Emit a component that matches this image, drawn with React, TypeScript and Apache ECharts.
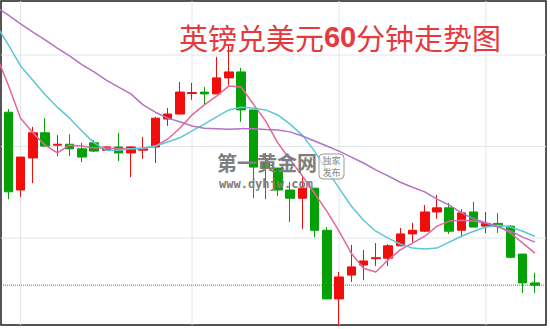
import React, { useEffect, useRef } from "react";
import * as echarts from "echarts";

// Title pieces
const TITLE_HEAD = "英镑兑美元";
const TITLE_NUM = "60";
const TITLE_TAIL = "分钟走势图";
const WM_NAME = "第一黄金网";
const WM_URL = "www.dyhjw.com";
const WM_BADGE = "独家\n发布";

// index of the first bar (it is cut by the left edge of the frame)
const FIRST_BAR = -1;

// GBP/USD 60-minute bars: [open, close, low, high]
const ohlc: number[][] = [
  [1.30341, 1.30273, 1.30262, 1.3035],
  [1.30275, 1.30101, 1.30085, 1.30282],
  [1.30105, 1.30177, 1.3009, 1.30177],
  [1.30175, 1.3023, 1.3012, 1.30243],
  [1.3023, 1.30201, 1.30199, 1.30262],
  [1.30203, 1.30205, 1.30179, 1.30225],
  [1.30205, 1.30195, 1.30179, 1.30227],
  [1.30195, 1.30177, 1.30166, 1.30208],
  [1.30208, 1.3019, 1.30188, 1.30214],
  [1.30192, 1.30199, 1.30192, 1.30201],
  [1.30199, 1.30186, 1.30168, 1.3023],
  [1.30186, 1.30199, 1.30133, 1.30201],
  [1.30192, 1.30195, 1.30173, 1.30221],
  [1.30199, 1.30262, 1.30164, 1.30265],
  [1.3026, 1.30271, 1.30245, 1.30284],
  [1.30271, 1.30319, 1.30271, 1.30341],
  [1.30316, 1.30318, 1.30302, 1.30339],
  [1.30319, 1.30315, 1.30291, 1.3033],
  [1.30315, 1.3035, 1.30315, 1.30396],
  [1.3035, 1.30363, 1.30334, 1.30422],
  [1.30363, 1.3028, 1.30254, 1.30372],
  [1.3028, 1.30155, 1.30087, 1.3028],
  [1.30164, 1.30153, 1.30085, 1.30186],
  [1.30153, 1.30105, 1.30092, 1.30153],
  [1.30105, 1.30087, 1.30035, 1.30122],
  [1.30087, 1.30109, 1.3002, 1.30136],
  [1.30109, 1.30017, 1.30002, 1.30109],
  [1.30017, 1.29867, 1.29867, 1.30024],
  [1.29867, 1.29915, 1.29808, 1.29926],
  [1.29919, 1.29937, 1.29904, 1.29985],
  [1.29941, 1.2995, 1.29908, 1.29974],
  [1.29955, 1.29957, 1.29939, 1.29989],
  [1.29956, 1.29983, 1.29939, 1.29987],
  [1.29983, 1.30009, 1.29983, 1.30022],
  [1.30009, 1.30017, 1.29991, 1.30033],
  [1.30015, 1.30057, 1.30013, 1.30072],
  [1.30057, 1.30066, 1.30042, 1.30094],
  [1.30066, 1.30015, 1.30009, 1.30077],
  [1.30017, 1.30055, 1.30002, 1.30063],
  [1.30057, 1.30024, 1.30024, 1.30079],
  [1.30026, 1.30032, 1.30011, 1.30057],
  [1.30032, 1.30026, 1.30011, 1.30055],
  [1.30026, 1.29958, 1.29956, 1.30028],
  [1.29965, 1.29902, 1.2988, 1.29965],
  [1.29902, 1.29897, 1.2988, 1.29924],
];

// moving averages, one value per bar
const maFast = [
  1.304, 1.30334, 1.30262, 1.3023, 1.30203, 1.30186, 1.30203, 1.30201, 1.30197, 1.30197,
  1.30195, 1.30195, 1.30195, 1.30201, 1.30216, 1.3024, 1.30269, 1.30291, 1.3031, 1.30332,
  1.3033, 1.30293, 1.30256, 1.30208, 1.30171, 1.30136, 1.30098, 1.30059, 1.30015, 1.29967,
  1.29934, 1.29926, 1.29952, 1.29974, 1.29989, 1.30004, 1.30026, 1.30037, 1.30039, 1.30037,
  1.30033, 1.30026, 1.30011, 1.29989, 1.29967,
];
const maMid = [
  1.30466, 1.30422, 1.30376, 1.30345, 1.30313, 1.30286, 1.30262, 1.30234, 1.30208, 1.30192,
  1.30192, 1.30195, 1.30197, 1.30201, 1.3021, 1.30219, 1.30234, 1.30249, 1.30265, 1.3028,
  1.30286, 1.30284, 1.3028, 1.30269, 1.30249, 1.30225, 1.3019, 1.30149, 1.30109, 1.3007,
  1.30039, 1.30015, 1.3, 1.29987, 1.29978, 1.29976, 1.29978, 1.29991, 1.30004, 1.30015,
  1.30024, 1.30028, 1.30024, 1.30015, 1.30004,
];
const maSlow = [
  1.30505, 1.30487, 1.30468, 1.3045, 1.30433, 1.30415, 1.30398, 1.30379, 1.30363, 1.30345,
  1.3033, 1.30315, 1.30291, 1.30275, 1.30262, 1.30254, 1.30245, 1.3024, 1.30239, 1.30238,
  1.30239, 1.30239, 1.30237, 1.30236, 1.30232, 1.30223, 1.30212, 1.30201, 1.3019, 1.30177,
  1.30164, 1.30149, 1.30136, 1.30122, 1.30111, 1.30101, 1.30085, 1.30072, 1.30055, 1.30042,
  1.30033, 1.30024, 1.30015, 1.30002, 1.29991,
];

// axis window, horizontal grid prices, vertical grid bars, last-price level
const X_MIN = -0.6;
const X_MAX = 43.9;
const Y_MIN = 1.2981;
const Y_MAX = 1.30518;
const gridPrices = [1.3, 1.302, 1.304];
const gridBars = [1, 15, 27, 39];
const lastPrice = 1.29897;

const UP = "#f20d0d";
const DOWN = "#05a005";
const GRID = "#e3e5ed";

export default function App() {
  const ref = useRef<HTMLDivElement>(null);

  useEffect(() => {
    if (!ref.current) return;
    const chart = echarts.init(ref.current, undefined, { renderer: "svg" });
    const withX = (arr: number[]) => arr.map((v, k) => [k + FIRST_BAR, v]);
    const refLine = (data: number[][], color: string, type: string, z: number) => ({
      type: "line",
      data,
      z,
      silent: true,
      symbol: "none",
      lineStyle: { color, width: 1, type },
    });

    chart.setOption({
      animation: false,
      grid: {
        left: 1,
        right: 4,
        top: 1,
        bottom: 4,
        show: true,
        borderColor: "#1e1e1e",
        borderWidth: 1.5,
        backgroundColor: "#ffffff",
      },
      xAxis: { type: "value", min: X_MIN, max: X_MAX, show: false },
      yAxis: { type: "value", min: Y_MIN, max: Y_MAX, show: false, scale: true },
      series: [
        ...gridPrices.map((p) =>
          refLine([[X_MIN, p], [X_MAX, p]], GRID, "solid", 1)
        ),
        ...gridBars.map((b) =>
          refLine([[b, Y_MIN], [b, Y_MAX]], GRID, "solid", 1)
        ),
        refLine([[X_MIN, lastPrice], [X_MAX, lastPrice]], "#2f9a2f", "dotted", 2),
        {
          type: "candlestick",
          z: 3,
          barWidth: 9,
          data: ohlc.map((r, k) => [k + FIRST_BAR, ...r]),
          itemStyle: {
            color: UP,
            color0: DOWN,
            borderColor: UP,
            borderColor0: DOWN,
            borderWidth: 1,
          },
        },
        {
          type: "line",
          z: 4,
          data: withX(maFast),
          symbol: "none",
          lineStyle: { color: "#e4679a", width: 1.5 },
        },
        {
          type: "line",
          z: 4,
          data: withX(maMid),
          symbol: "none",
          lineStyle: { color: "#5cc7d6", width: 1.5 },
        },
        {
          type: "line",
          z: 4,
          data: withX(maSlow),
          symbol: "none",
          lineStyle: { color: "#b372c4", width: 1.5 },
        },
      ],
      graphic: [
        {
          type: "text",
          z: 100,
          x: 340,
          y: 37,
          style: {
            text: `{a|${TITLE_HEAD}}{b|${TITLE_NUM}}{a|${TITLE_TAIL}}`,
            align: "center",
            verticalAlign: "middle",
            rich: {
              a: {
                fontSize: 29,
                fontFamily: "Noto Sans CJK SC",
                fill: "#e5393d",
                color: "#e5393d",
              },
              b: {
                fontSize: 29,
                fontWeight: "bold",
                fontFamily: "Liberation Sans",
                fill: "#e5393d",
                color: "#e5393d",
              },
            },
          },
        },
        {
          type: "text",
          z: 100,
          x: 217,
          y: 162,
          style: {
            text: WM_NAME,
            fill: "#7e7e7e",
            font: "bold 20px 'Noto Sans CJK SC'",
            verticalAlign: "middle",
          },
        },
        {
          type: "text",
          z: 100,
          x: 219,
          y: 184,
          style: {
            text: WM_URL,
            fill: "#7e7e7e",
            font: "bold 12px 'DejaVu Sans Mono'",
            verticalAlign: "middle",
          },
        },
        {
          type: "rect",
          z: 100,
          shape: { x: 319, y: 154, width: 25, height: 25, r: 4 },
          style: { fill: "rgba(255,255,255,0.6)", stroke: "#9a9a9a", lineWidth: 1 },
        },
        {
          type: "text",
          z: 101,
          x: 331.5,
          y: 166.5,
          style: {
            text: WM_BADGE,
            fill: "#8a8a8a",
            font: "9px 'Noto Sans CJK SC'",
            lineHeight: 12,
            align: "center",
            verticalAlign: "middle",
          },
        },
      ],
    });

    return () => chart.dispose();
  }, []);

  return (
    <div
      ref={ref}
      style={{ position: "fixed", left: 0, top: 0, width: 550, height: 329, background: "#fff" }}
    />
  );
}
